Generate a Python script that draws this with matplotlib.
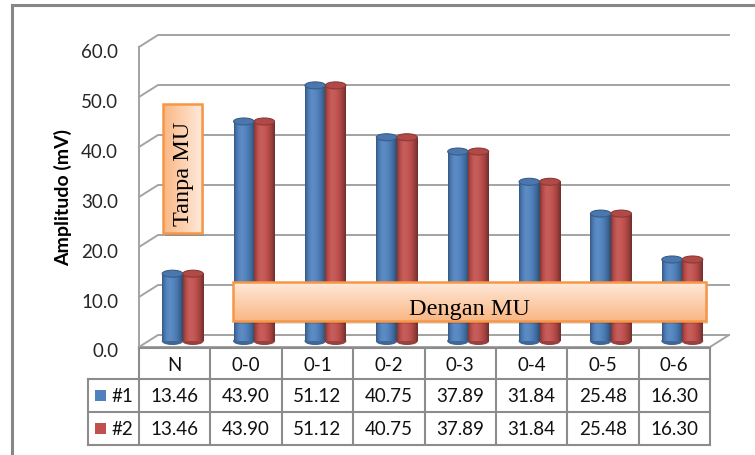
import numpy as np
import matplotlib
matplotlib.use('Agg')
import matplotlib.pyplot as plt
from matplotlib.patches import Rectangle, Ellipse
from matplotlib.colors import to_rgb
from matplotlib.transforms import ScaledTranslation

plt.rcParams['font.family'] = ['Lato', 'DejaVu Sans']

# data
categories = ['N', '0-0', '0-1', '0-2', '0-3', '0-4', '0-5', '0-6']
series_names = ['#1', '#2']
series1 = [13.46, 43.90, 51.12, 40.75, 37.89, 31.84, 25.48, 16.30]
series2 = [13.46, 43.90, 51.12, 40.75, 37.89, 31.84, 25.48, 16.30]
yticks = [0, 10, 20, 30, 40, 50, 60]
colors = ['#4F81BD', '#C0504D']

# layout in pixels
W, H = 755, 456
FX0, FX1 = 139, 710        # front plane
FY0, PXU = 348, 5          # y pixel of value 0, pixels per unit
DXB, DYB = 19, 12          # back wall offset
DXM, DYM = 8, 6            # cylinder depth offset
bw = 0.287                 # cylinder width (category units)
top_h = 1.4                # ellipse height (value units)
fs = 13.5

fig = plt.figure(figsize=(W / 100, H / 100), dpi=100)

bg = fig.add_axes([0, 0, 1, 1], zorder=0)
bg.set_xlim(0, W)
bg.set_ylim(H, 0)
bg.axis('off')

fw, fh = (FX1 - FX0) / W, 60 * PXU / H
tax = fig.add_axes([FX0 / W, (H - FY0) / H, fw, fh], zorder=1)
ax = fig.add_axes([(FX0 + DXM) / W, (H - FY0 + DYM) / H, fw, fh], zorder=2)
fg = fig.add_axes([0, 0, 1, 1], zorder=3)
fg.set_xlim(0, W)
fg.set_ylim(H, 0)
fg.axis('off')

# walls and gridlines
gc = '#A3A3A3'
for v in yticks:
    yf = FY0 - v * PXU
    bg.plot([FX0, FX0 + DXB, FX1 + DXB], [yf, yf - DYB, yf - DYB], color=gc, lw=1.4)
bg.plot([FX0, FX0], [FY0 - 60 * PXU, FY0], color=gc, lw=1.4)
bg.plot([FX0, FX1, FX1 + DXB], [FY0, FY0, FY0 - DYB], color=gc, lw=1.4)

# y tick labels on the front plane
tax.set_xlim(-0.5, 7.5)
tax.set_ylim(0, 60)
tax.set_yticks(yticks)
tax.set_yticklabels(['%.1f' % v for v in yticks])
tax.set_xticks([])
tax.tick_params(axis='y', length=0, pad=15, labelsize=fs, labelcolor='#262626')
for sp in tax.spines.values():
    sp.set_visible(False)
tax.patch.set_visible(False)
for lab in tax.get_yticklabels():
    lab.set_transform(lab.get_transform() + ScaledTranslation(0, -2.5 / 100, fig.dpi_scale_trans))

bg.text(63, 198, 'Amplitudo (mV)', rotation=90, ha='center', va='center',
        fontsize=14, fontweight='bold', color='#000000')


def shade(col):
    base = np.array(to_rgb(col))
    t = np.linspace(0, 1, 64)
    b = np.where(t < 0.35, 1.08 - 0.40 * ((0.35 - t) / 0.35) ** 2,
                 1.08 - 0.50 * ((t - 0.35) / 0.65) ** 2)
    out = []
    for f in b:
        if f > 1:
            out.append(base + (1 - base) * (f - 1))
        else:
            out.append(base * f)
    return np.array(out)[None, :, :]


# cylinders
for s, (vals, col) in enumerate(zip([series1, series2], colors)):
    grad = shade(col)
    base = np.array(to_rgb(col))
    for i, v in enumerate(vals):
        xc = i + (s - 0.5) * bw
        ax.add_patch(Ellipse((xc, 0), bw, top_h, fc=base * 0.8, ec=base * 0.7,
                             lw=0.6, clip_on=False, zorder=1))
        ax.imshow(grad, extent=[xc - bw / 2, xc + bw / 2, 0, v], aspect='auto',
                  interpolation='bilinear', zorder=2)
        ax.add_patch(Ellipse((xc, v), bw, top_h, fc=base * 0.92, ec=base * 0.72,
                             lw=0.8, zorder=3))
ax.set_xlim(-0.5, 7.5)
ax.set_ylim(0, 60)
ax.axis('off')

# data table
tc = '#8C8C8C'
cw = (FX1 - FX0) / len(categories)
rows_y = [349, 380, 413, 446]
fg.plot([FX0, FX1], [rows_y[0], rows_y[0]], color=tc, lw=1.5)
for y in rows_y[1:]:
    fg.plot([88, FX1], [y, y], color=tc, lw=1.5)
fg.plot([88, 88], [rows_y[1], rows_y[3]], color=tc, lw=1.5)
for i in range(len(categories) + 1):
    x = FX0 + i * cw
    fg.plot([x, x], [rows_y[0], rows_y[3]], color=tc, lw=1.5)
for i, c in enumerate(categories):
    xc = FX0 + (i + 0.5) * cw
    fg.text(xc, 366, c, ha='center', va='center', fontsize=fs, color='#111111')
    fg.text(xc, 397, '%.2f' % series1[i], ha='center', va='center', fontsize=fs, color='#111111')
    fg.text(xc, 430, '%.2f' % series2[i], ha='center', va='center', fontsize=fs, color='#111111')
for r, (name, col) in enumerate(zip(series_names, colors)):
    yc = 396.5 + r * 33
    fg.add_patch(Rectangle((95, yc - 5.5), 11, 11, fc=col, ec='none'))
    fg.text(111, yc, name, ha='left', va='center', fontsize=fs, color='#111111')


# text boxes
def label_box(x0, y0, x1, y1, text, horizontal):
    light = np.array(to_rgb('#FFE9DA'))
    dark = np.array(to_rgb('#FAB784'))
    t = np.linspace(0, 1, 64)[:, None]
    g = light + (dark - light) * t
    if horizontal:
        img = g[:, None, :]                 # top light, bottom orange
    else:
        img = g[::-1][None, :, :]           # left orange, right light
    fg.add_patch(Rectangle((x0 + 2, y0 + 3), x1 - x0, y1 - y0, fc='#000000',
                           ec='none', alpha=0.12, zorder=1))
    fg.imshow(img, extent=[x0, x1, y1, y0], aspect='auto', interpolation='bilinear', zorder=2)
    fg.add_patch(Rectangle((x0, y0), x1 - x0, y1 - y0, fc='none', ec='#F79646',
                           lw=1.8, zorder=3))
    if horizontal:
        fg.text((x0 + x1) / 2, 315, text, ha='center', va='baseline', fontsize=17.5,
                family='Liberation Serif', color='#000000', zorder=4)
    else:
        fg.text(184, (y0 + y1) / 2 + 4, text, ha='center', va='center', rotation=90,
                fontsize=17.5, family='Liberation Serif', color='#000000', zorder=4)


label_box(163, 105, 202, 234, 'Tanpa MU', False)
label_box(233, 283, 706, 322, 'Dengan MU', True)
fg.set_xlim(0, W)
fg.set_ylim(H, 0)

# chart border
fg.plot([12, W], [6, 6], color='#868686', lw=2.2)
fg.plot([12, 12], [6, H], color='#868686', lw=2.2)

fig.savefig('out.png', dpi=100)
